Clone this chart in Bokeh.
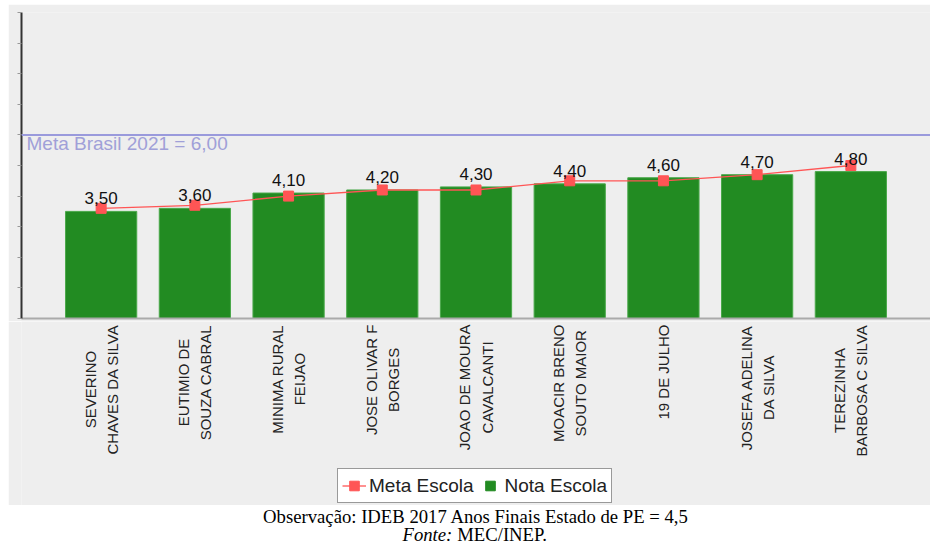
import math
from bokeh.plotting import figure
from bokeh.models import (Range1d, FixedTicker, Span, Label, Legend, LegendItem,
                          ColumnDataSource)
from bokeh.layouts import column
from bokeh.embed import file_html
from bokeh.resources import INLINE
from bokeh.core.properties import value

# ---- data ----
escolas = ["SEVERINO\nCHAVES DA SILVA", "EUTIMIO DE\nSOUZA CABRAL", "MINIMA RURAL\nFEIJAO",
           "JOSE OLIVAR F\nBORGES", "JOAO DE MOURA\nCAVALCANTI", "MOACIR BRENO\nSOUTO MAIOR",
           "19 DE JULHO", "JOSEFA ADELINA\nDA SILVA", "TEREZINHA\nBARBOSA C SILVA"]
nota_escola = [3.5, 3.6, 4.1, 4.2, 4.3, 4.4, 4.6, 4.7, 4.8]
meta_escola = [3.6, 3.7, 4.0, 4.2, 4.2, 4.5, 4.5, 4.7, 5.0]
meta_brasil = 6.0
meta_brasil_label = "Meta Brasil 2021 = 6,00"
y_ticks = list(range(0, 11))
series_names = ["Meta Escola", "Nota Escola"]
caption_obs = "Observação: IDEB 2017 Anos Finais Estado de PE = 4,5"
caption_fonte_a = "Fonte:"
caption_fonte_b = "MEC/INEP."

xs = list(range(len(escolas)))
labels = [f"{v:.2f}".replace(".", ",") for v in nota_escola]
src = ColumnDataSource(dict(x=xs, nota=nota_escola, meta=meta_escola, lab=labels,
                            escola=escolas))

BG = "#EEEEEE"
RED = "#FF5555"
GREEN = "#228B22"
xr = Range1d(-0.85, 8.85)

# ---------- main chart ----------
p = figure(width=922, height=317, x_range=xr, y_range=Range1d(0, 10),
           output_backend="svg", toolbar_location=None,
           min_border_left=13, min_border_top=8, min_border_right=0, min_border_bottom=3,
           background_fill_color=BG, border_fill_color=BG, outline_line_color=None)
p.margin = (4, 0, 0, 8)
p.grid.visible = False

bars = p.vbar(x="x", top="nota", width=0.76, source=src, fill_color=GREEN,
              line_color="#4AA84A", line_width=1)
ln = p.line(x="x", y="meta", source=src, line_color=RED, line_width=1.3)
sq = p.scatter(x="x", y="meta", source=src, marker="square", size=10,
               fill_color=RED, line_color=RED)
p.text(x="x", y="nota", text="lab", source=src, text_align="center", text_baseline="bottom",
       y_offset=-7, text_font=value("Liberation Sans"), text_font_size="17px",
       text_color="#111111")

p.add_layout(Span(location=meta_brasil, dimension="width", line_color="#9A9ADC", line_width=2))
p.add_layout(Label(x=-0.85, y=meta_brasil, x_offset=5, y_offset=2, text=meta_brasil_label,
                   text_font="Liberation Sans", text_font_size="19px", text_color="#A0A0D8",
                   text_baseline="top"))

p.yaxis.ticker = FixedTicker(ticks=y_ticks)
p.yaxis.major_label_overrides = {t: "" for t in y_ticks}
p.yaxis.major_label_standoff = 0
p.yaxis.axis_line_color = "#333333"
p.yaxis.axis_line_width = 2
p.yaxis.major_tick_line_color = "#999999"
p.yaxis.major_tick_out = 4
p.yaxis.major_tick_in = 0
p.yaxis.minor_tick_line_color = None

p.xaxis.ticker = FixedTicker(ticks=[])
p.xaxis.major_tick_out = 0
p.xaxis.major_tick_in = 0
p.xaxis.major_label_standoff = 0
p.xaxis.minor_tick_line_color = None
p.xaxis.axis_line_color = "#AAAAAA"
p.xaxis.axis_line_width = 2

# ---------- category labels + legend ----------
b = figure(width=922, height=184, x_range=xr, y_range=Range1d(184, 0),
           output_backend="svg", toolbar_location=None,
           min_border_left=13, min_border_top=0, min_border_right=0, min_border_bottom=0,
           background_fill_color=BG, border_fill_color=BG, outline_line_color=None)
b.margin = (0, 0, 0, 8)
b.axis.visible = False
b.grid.visible = False
b.text(x="x", y=3, text="escola", source=src, angle=math.pi / 2, anchor="center_right",
       text_align="center", text_font=value("Liberation Sans"), text_font_size="15px",
       text_color="#222222", text_line_height=1.3)

# hidden copies of the series, used only for the legend glyphs
l_ln = b.line(x="x", y="meta", source=src, line_color=RED, line_width=1.3, visible=False)
l_sq = b.scatter(x="x", y="meta", source=src, marker="square", fill_color=RED,
                 line_color=RED, visible=False)
l_bar = b.scatter(x="x", y="nota", source=src, marker="square", fill_color=GREEN,
                  line_color=GREEN, visible=False)

legend = Legend(items=[LegendItem(label=series_names[0], renderers=[l_ln, l_sq]),
                       LegendItem(label=series_names[1], renderers=[l_bar])],
                orientation="horizontal", location=(316, 2),
                border_line_color="#333333", border_line_width=1,
                background_fill_color="white", background_fill_alpha=1,
                inactive_fill_alpha=0,
                label_text_font="Liberation Sans", label_text_font_size="19px",
                label_text_color="#222222", padding=4, spacing=4, margin=0,
                glyph_width=24, glyph_height=25, label_standoff=3)
b.add_layout(legend, "center")

# ---------- caption ----------
c = figure(width=930, height=40, x_range=Range1d(0, 930), y_range=Range1d(40, 0),
           output_backend="svg", toolbar_location=None, min_border=0,
           background_fill_color="white", border_fill_color="white", outline_line_color=None)
c.axis.visible = False
c.grid.visible = False
c.text(x=[469], y=[11], text=[caption_obs], text_align="center", text_baseline="middle",
       text_font=value("Liberation Serif"), text_font_size="18.7px", text_color="black")
c.text(x=[445], y=[29], text=[caption_fonte_a], text_align="right", text_baseline="middle",
       text_font=value("Liberation Serif"), text_font_size="18.7px", text_font_style="italic",
       text_color="black")
c.text(x=[450], y=[29], text=[caption_fonte_b], text_align="left", text_baseline="middle",
       text_font=value("Liberation Serif"), text_font_size="18.7px", text_color="black")

layout = column(p, b, c, spacing=0)
open("out.html", "w").write(file_html(layout, INLINE))
